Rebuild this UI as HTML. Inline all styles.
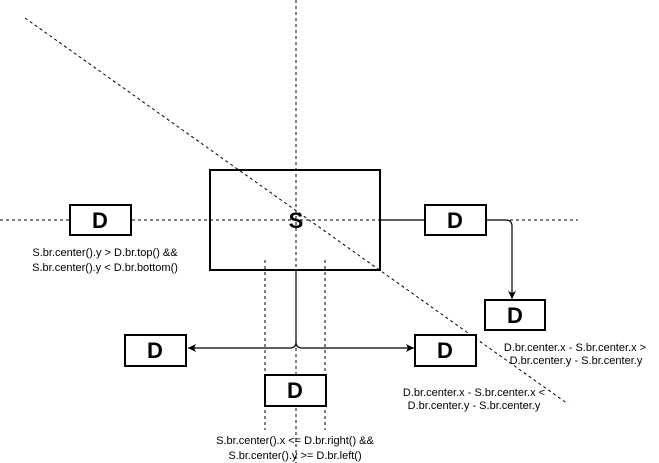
<!DOCTYPE html>
<html><head><style>
html,body{margin:0;padding:0;background:#fff;}
svg{display:block;}
text{font-family:"Liberation Sans",sans-serif;}
</style></head><body>
<svg width="659" height="463" viewBox="0 0 659 463" xmlns="http://www.w3.org/2000/svg">
<defs>
<marker id="a" markerWidth="10" markerHeight="10" refX="9" refY="5" orient="auto" markerUnits="userSpaceOnUse">
<path d="M1,1 L9,5 L1,9 L3,5 Z" fill="#000"/>
</marker>
</defs>
<g stroke="#000" stroke-width="1" stroke-dasharray="3,3" fill="none">
<line x1="25" y1="18" x2="568" y2="404"/>
<line x1="296" y1="0" x2="296" y2="463"/>
<line x1="0" y1="220" x2="578" y2="220"/>
<line x1="265" y1="260" x2="265" y2="430"/>
<line x1="325" y1="260" x2="325" y2="430"/>
</g>
<g stroke="#000" stroke-width="1.2" fill="none">
<path d="M296,270 L296,342 Q296,348 290,348 L188,348" marker-end="url(#a)"/>
<path d="M296,342 Q296,348 302,348 L414,348" marker-end="url(#a)"/>
<path d="M380,220 L506,220 Q512,220 512,226 L512,299" marker-end="url(#a)"/>
</g>
<g stroke="#000" stroke-width="2" fill="#fff">
<rect x="210" y="170" width="170" height="100" fill="none"/>
<rect x="70" y="205" width="61" height="30"/>
<rect x="425" y="205" width="61" height="30"/>
<rect x="485" y="300" width="60" height="30"/>
<rect x="415" y="335" width="61" height="31"/>
<rect x="125" y="335" width="61" height="31"/>
<rect x="265" y="375" width="61" height="31"/>
</g>
<g font-weight="bold" font-size="22" text-anchor="middle">
<text x="296" y="228">S</text>
<text x="100" y="228">D</text>
<text x="455" y="228">D</text>
<text x="515" y="323">D</text>
<text x="445" y="358">D</text>
<text x="155" y="358">D</text>
<text x="295" y="398">D</text>
</g>
<g font-size="11" text-anchor="middle" fill="#000">
<text x="105" y="256">S.br.center().y &gt; D.br.top() &amp;&amp;</text>
<text x="105" y="271">S.br.center().y &lt; D.br.bottom()</text>
<text x="575" y="351">D.br.center.x - S.br.center.x &gt;</text>
<text x="576" y="364">D.br.center.y - S.br.center.y</text>
<text x="474" y="396">D.br.center.x - S.br.center.x &lt;</text>
<text x="474" y="409">D.br.center.y - S.br.center.y</text>
<text x="295" y="444">S.br.center().x &lt;= D.br.right() &amp;&amp;</text>
<text x="295" y="459">S.br.center().y &gt;= D.br.left()</text>
</g>
</svg>
</body></html>
